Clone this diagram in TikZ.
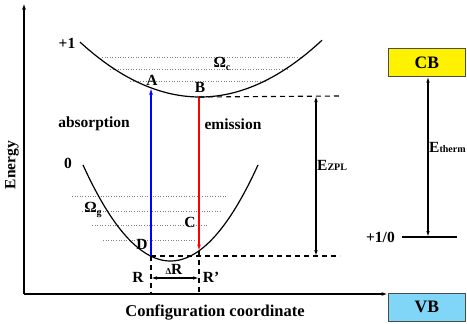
\documentclass[tikz,border=0pt]{standalone}
\usepackage{fontspec}
\setmainfont{Liberation Serif}
\usetikzlibrary{arrows.meta}
\begin{document}
\begin{tikzpicture}[x=1pt,y=-1pt,
  lbl/.style={font=\fontsize{15.5}{15.5}\selectfont\bfseries, inner sep=0pt},
  curve/.style={line width=1.2pt},
  lvl/.style={gray, line width=0.7pt, dash pattern=on 1pt off 1.6pt},
  dsh/.style={line width=1.1pt, dash pattern=on 5pt off 4pt},
  tip/.style={-{Latex[length=6.5pt,width=3.8pt]}},
  dtip/.style={{Latex[length=6pt,width=3.5pt]}-{Latex[length=6pt,width=3.5pt]}},
  bandbox/.style={draw=gray!60!black, line width=0.6pt, minimum width=77pt, minimum height=28pt, font=\fontsize{17.5}{17.5}\selectfont\bfseries}]
\useasboundingbox (0,0) rectangle (467,324);
% axes
\coordinate (O) at (24,294);
\coordinate (Ytop) at (24,3);
\node[bandbox, fill=cyan!50, anchor=north west] (VB) at (388,293) {VB};
\node[bandbox, fill=yellow, anchor=north west] (CB) at (388,48) {CB};
\draw[line width=1.4pt, tip] (O) -- (Ytop);
\draw[line width=1.4pt, tip] (O) -- (VB.west |- O);
\node[lbl, rotate=90] (energy) at (12,165) {Energy};
\node[lbl, font=\fontsize{16.5}{16.5}\selectfont\bfseries] (config) at (215,313) {Configuration coordinate};
% level lines upper
\draw[lvl] (102,57) -- (303,57);
\draw[lvl] (110,69) -- (287,69);
\draw[lvl] (130,81) -- (267,81);
% level lines lower
\draw[lvl] (72,196) -- (227,196);
\draw[lvl] (82,211) -- (220,211);
\draw[lvl] (92,225) -- (207,225);
\draw[lvl] (103,240) -- (195,240);
% parabolas
\draw[curve] plot[domain=80:322, samples=80] (\x, {97-0.00382*(\x-200)*(\x-200)});
\draw[curve] plot[domain=83:258, samples=80] (\x, {261-0.01254*(\x-170.5)*(\x-170.5)});
% key points
\coordinate (A) at (151,88);
\coordinate (B) at (199,97);
\coordinate (C) at (199,251);
\coordinate (D) at (151,256);
\coordinate (R) at (151,294);
\coordinate (Rp) at (199,294);
\coordinate (Zt) at (340,96);
\coordinate (Zb) at (340,256);
% transitions
\draw[blue, line width=1.2pt, tip] (D) -- (A);
\draw[red, line width=1.2pt, tip] (B) -- (C);
% dashed
\draw[dsh] (B) -- (Zt);
\draw[dsh] (D) -- (Zb);
\draw[dsh] (D) -- (R);
\draw[dsh] (C) -- (Rp);
% Delta R
\coordinate (dRl) at (151,278);
\coordinate (dRr) at (199,278);
\draw[line width=1.1pt, dtip] (dRl) -- (dRr);
% E_ZPL
\coordinate (Et) at (316,96);
\coordinate (Eb) at (316,256);
\draw[line width=1.1pt, dtip] (Et) -- (Eb);
\node[lbl, anchor=west] (ezpl) at (317,165) {E{\fontsize{10}{10}\selectfont ZPL}};
% right levels
\coordinate (L1) at (402,237);
\coordinate (L2) at (457,237);
\draw[line width=1.4pt] (L1) -- (L2);
\node[lbl, anchor=east] (lv) at (395,237) {+1/0};
\coordinate (Th) at (428,237);
\draw[line width=1.1pt, dtip] (CB.south -| Th) -- (Th);
\node[lbl, anchor=west] (etherm) at (429,147) {E{\fontsize{10}{10}\selectfont therm}};
% labels
\node[lbl] (p1) at (67,43) {+1};
\node[lbl] (z0) at (68,163) {0};
\node[lbl] (omc) at (222,64) {Ω\raisebox{-2.5pt}{\fontsize{10}{10}\selectfont c}};
\node[lbl] (omg) at (93,210) {Ω\raisebox{-2.5pt}{\fontsize{10}{10}\selectfont g}};
\node[lbl] (la) at (152,80) {A};
\node[lbl] (lb) at (200,87) {B};
\node[lbl] (lc) at (190,222) {C};
\node[lbl] (ld) at (142,244) {D};
\node[lbl] (abs) at (94,124) {absorption};
\node[lbl] (emi) at (233,124) {emission};
\node[lbl] (lr) at (138,277) {R};
\node[lbl] (lrp) at (211,277) {R’};
\node[lbl, anchor=south] (ldr) at (174,275) {{\fontsize{9}{9}\selectfont Δ}R};
\end{tikzpicture}
\end{document}
